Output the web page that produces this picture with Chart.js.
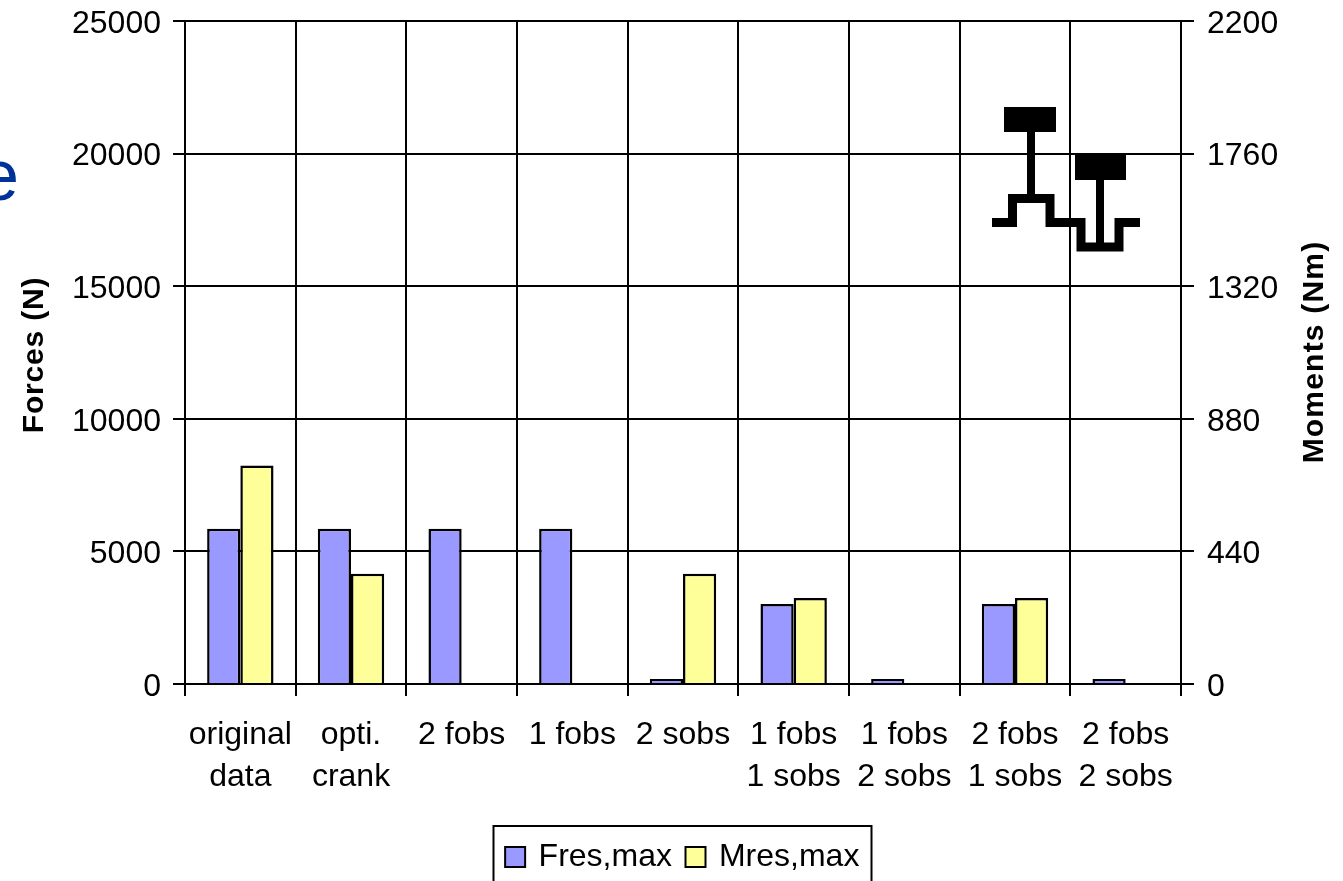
<!DOCTYPE html>
<html>
<head>
<meta charset="utf-8">
<title>Forces and moments</title>
<style>
  html, body { margin: 0; padding: 0; background: #fff; overflow: hidden; }
  canvas { display: block; }
</style>
<script src="https://cdn.jsdelivr.net/npm/chart.js@4"></script>
</head>
<body>
<canvas id="chart" width="1343" height="881"></canvas>
<script>
// Residual forces and moments per crank balancing variant
const categories = [
  ['original', 'data'], ['opti.', 'crank'], '2 fobs', '1 fobs', '2 sobs',
  ['1 fobs', '1 sobs'], ['1 fobs', '2 sobs'], ['2 fobs', '1 sobs'], ['2 fobs', '2 sobs']
];
const forceValues  = [5850, 5850, 5850, 5850, 190, 3020, 190, 3020, 190];
const momentValues = [725, 366, 0, 0, 366, 285, 0, 285, 0];
const forceTicks   = [0, 5000, 10000, 15000, 20000, 25000];
const momentTicks  = [0, 440, 880, 1320, 1760, 2200];

const FONT = '"Liberation Sans", Arial, sans-serif';
const FORCE_FILL = '#9999FF';
const MOMENT_FILL = '#FFFF99';

// Legend swatch: a bordered square, wider than the slot reserved for it
function swatch(fill) {
  const c = document.createElement('canvas');
  c.width = 24; c.height = 24;
  const g = c.getContext('2d');
  g.fillStyle = fill;
  g.fillRect(1, 1, 22, 22);
  g.strokeStyle = '#000';
  g.lineWidth = 2;
  g.strokeRect(2, 2, 20, 20);
  return c;
}

// Moves the legend into place, then frames it; the frame runs off the bottom edge
const legendFrame = {
  id: 'legendFrame',
  afterLayout(chart) {
    const l = chart.legend;
    l.left += 12; l.right += 12; l.top += 2; l.bottom += 2;
  },
  afterDraw(chart) {
    const g = chart.ctx;
    g.save();
    g.strokeStyle = '#000';
    g.lineWidth = 2;
    g.strokeRect(493.5, 826, 378, 70);
    g.restore();
  }
};

// Both axis titles read bottom to top
function drawAxisTitle(g, text, x, y, spacing) {
  g.save();
  g.translate(x, y);
  g.rotate(-Math.PI / 2);
  g.fillStyle = '#000';
  g.font = 'bold 30px ' + FONT;
  g.letterSpacing = spacing + 'px';
  g.textAlign = 'center';
  g.textBaseline = 'alphabetic';
  g.fillText(text, 0, 0);
  g.restore();
}

// Axis titles, crankshaft sketch and the clipped slide lettering on the left
const annotations = {
  id: 'annotations',
  afterDatasetsDraw(chart) {
    const g = chart.ctx;
    drawAxisTitle(g, 'Forces (N)', 43, 355, 0.8);
    drawAxisTitle(g, 'Moments (Nm)', 1323, 352, 1.2);
    g.save();
    g.fillStyle = '#000';
    g.fillRect(1004, 107, 52, 25);
    g.fillRect(1075, 153, 51, 27);
    g.fillRect(1027, 132, 8, 66);
    g.fillRect(1096, 180, 8, 66);
    g.strokeStyle = '#000';
    g.lineWidth = 9;
    g.lineJoin = 'miter';
    g.beginPath();
    g.moveTo(992, 222.5);
    g.lineTo(1012.5, 222.5);
    g.lineTo(1012.5, 198.5);
    g.lineTo(1050, 198.5);
    g.lineTo(1050, 222.5);
    g.lineTo(1081, 222.5);
    g.lineTo(1081, 247);
    g.lineTo(1119, 247);
    g.lineTo(1119, 222.5);
    g.lineTo(1140, 222.5);
    g.stroke();
    g.fillStyle = '#003399';
    g.font = '72px ' + FONT;
    g.textAlign = 'left';
    g.textBaseline = 'alphabetic';
    g.fillText('e', -21, 200);
    g.restore();
  }
};

new Chart(document.getElementById('chart'), {
  type: 'bar',
  data: {
    labels: categories,
    datasets: [
      { label: 'Fres,max', data: forceValues, yAxisID: 'y',
        backgroundColor: FORCE_FILL, borderColor: '#000', borderWidth: 2.5,
        categoryPercentage: 0.6, barPercentage: 1 },
      { label: 'Mres,max', data: momentValues, yAxisID: 'y2',
        backgroundColor: MOMENT_FILL, borderColor: '#000', borderWidth: 2.5,
        categoryPercentage: 0.6, barPercentage: 1 }
    ]
  },
  options: {
    responsive: false,
    animation: false,
    layout: { padding: 0 },
    plugins: {
      tooltip: { enabled: false },
      legend: {
        position: 'bottom',
        labels: {
          font: { family: FONT, size: 32 },
          color: '#000',
          usePointStyle: true,
          pointStyleWidth: 15,
          padding: 16,
          generateLabels(chart) {
            const items = Chart.defaults.plugins.legend.labels.generateLabels(chart);
            items[0].pointStyle = swatch(FORCE_FILL);
            items[1].pointStyle = swatch(MOMENT_FILL);
            return items;
          }
        }
      }
    },
    scales: {
      x: {
        afterFit(s) { s.height = 139; },
        grid: { color: '#000', lineWidth: 2, tickLength: 12, offset: true },
        border: { color: '#000', width: 2 },
        ticks: {
          color: '#000', autoSkip: false, maxRotation: 0, minRotation: 0, padding: 18,
          font: { family: FONT, size: 32, lineHeight: 1.31 }
        }
      },
      y: {
        position: 'left',
        min: 0, max: 25000,
        afterFit(s) { s.width = 185; s.paddingTop = 21; },
        afterBuildTicks(s) { s.ticks = forceTicks.map(v => ({ value: v })); },
        grid: { color: '#000', lineWidth: 2, tickLength: 12 },
        border: { color: '#000', width: 2 },
        ticks: { color: '#000', padding: 12, labelOffset: 3, font: { family: FONT, size: 32 }, callback: v => String(v) }
      },
      y2: {
        position: 'right',
        min: 0, max: 2200,
        afterFit(s) { s.width = 162; s.paddingTop = 21; },
        afterBuildTicks(s) { s.ticks = momentTicks.map(v => ({ value: v })); },
        grid: { drawOnChartArea: false, color: '#000', lineWidth: 2, tickLength: 13 },
        border: { color: '#000', width: 2 },
        ticks: { color: '#000', padding: 13, labelOffset: 3, font: { family: FONT, size: 32 }, callback: v => String(v) }
      }
    }
  },
  plugins: [legendFrame, annotations]
});
</script>
</body>
</html>
